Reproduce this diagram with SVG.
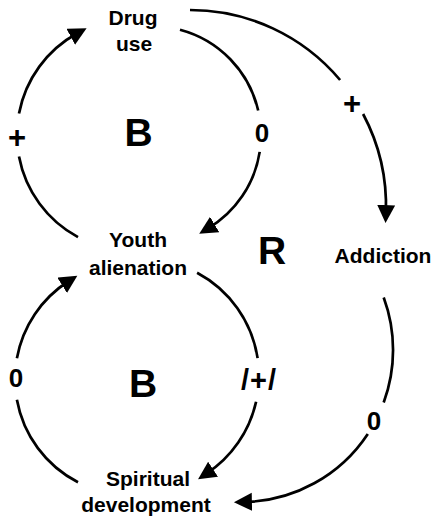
<svg xmlns="http://www.w3.org/2000/svg" width="435" height="522" viewBox="0 0 435 522">
  <style>
    .node { font-family: "Liberation Sans", Arial, sans-serif; font-weight: bold; font-size: 21px; fill: #000; text-anchor: middle; }
    .loop { font-family: "Liberation Sans", Arial, sans-serif; font-weight: bold; font-size: 39px; fill: #000; text-anchor: middle; }
    .lbl { font-family: "Liberation Sans", Arial, sans-serif; font-weight: bold; font-size: 26px; fill: #000; text-anchor: middle; }
    .plus { font-size: 31px; }
    .link { fill: none; stroke: #000; stroke-width: 2.7; }
  </style>
  <defs>
    <marker id="arrow" markerUnits="userSpaceOnUse" markerWidth="19" markerHeight="19" refX="8" refY="9" orient="auto">
      <path d="M0,0 L18,9 L0,18 z" fill="#000"/>
    </marker>
  </defs>
  <rect width="435" height="522" fill="#fff"/>

  <g id="connectors">
    <!-- Youth alienation -> Drug use (+) -->
    <path class="link" d="M78,237.1 A116,116 0 0 1 19,156.5"/>
    <path class="link" d="M19,113.5 A116,116 0 0 1 77.8,33" marker-end="url(#arrow)"/>
    <text class="lbl plus" x="17" y="148">+</text>
    <!-- Drug use -> Youth alienation (0) -->
    <path class="link" d="M180,29.7 A109,109 0 0 1 258.2,110.5"/>
    <path class="link" d="M259.7,151.9 A109,109 0 0 1 207.8,228.6" marker-end="url(#arrow)"/>
    <text class="lbl" x="262" y="142">0</text>
    <!-- Drug use -> Addiction (+) -->
    <path class="link" d="M190,10 A196,196 0 0 1 340.1,80"/>
    <path class="link" d="M363.1,114 A196,196 0 0 1 385.9,213.1" marker-end="url(#arrow)"/>
    <text class="lbl plus" x="352" y="114">+</text>
    <!-- Addiction -> Spiritual development (0) -->
    <path class="link" d="M383.7,297.5 A152,152 0 0 1 383.7,402.5"/>
    <path class="link" d="M367.8,433.9 A152,152 0 0 1 243.9,502" marker-end="url(#arrow)"/>
    <text class="lbl" x="374" y="430">0</text>
    <!-- Youth alienation -> Spiritual development (/+/) -->
    <path class="link" d="M197.1,272.8 A117,117 0 0 1 257.6,358.1"/>
    <path class="link" d="M256.1,401.7 A117,117 0 0 1 206.4,473.7" marker-end="url(#arrow)"/>
    <text class="lbl" x="259" y="390" style="font-size:29px; letter-spacing:1px">/+/</text>
    <!-- Spiritual development -> Youth alienation (0) -->
    <path class="link" d="M78,482.2 A116,116 0 0 1 16.9,399.7"/>
    <path class="link" d="M16.9,358.3 A116,116 0 0 1 68.9,281" marker-end="url(#arrow)"/>
    <text class="lbl" x="16" y="387">0</text>
  </g>

  <g id="drug-use">
    <text class="node" x="133" y="25">Drug</text>
    <text class="node" x="134" y="51">use</text>
  </g>
  <g id="youth-alienation">
    <text class="node" x="138" y="247">Youth</text>
    <text class="node" x="138" y="275">alienation</text>
  </g>
  <g id="addiction">
    <text class="node" x="383" y="263">Addiction</text>
  </g>
  <g id="spiritual-development">
    <text class="node" x="148" y="486">Spiritual</text>
    <text class="node" x="146" y="512">development</text>
  </g>
  <g id="loops">
    <text class="loop" x="138.5" y="146">B</text>
    <text class="loop" x="143" y="397">B</text>
    <text class="loop" x="272" y="264">R</text>
  </g>
</svg>
